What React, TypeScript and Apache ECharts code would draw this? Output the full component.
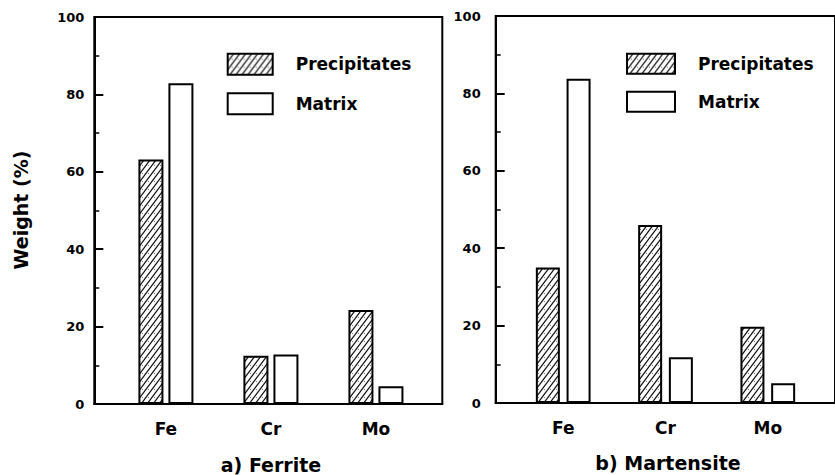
import React, { useEffect, useRef } from "react";
import * as echarts from "echarts";

// ---- data ----
const categories = ["Fe", "Cr", "Mo"];
const categoryPositions = [1, 2, 3];
const seriesNames = ["Precipitates", "Matrix"];
const ferritePrecipitates = [63.2, 12.5, 24.3];
const ferriteMatrix = [82.9, 12.8, 4.6];
const martensitePrecipitates = [35.0, 46.0, 19.7];
const martensiteMatrix = [83.8, 11.8, 5.1];
const panelTitles = ["a) Ferrite", "b) Martensite"];
const yAxisTitle = "Weight (%)";

const FONT = "DejaVu Sans";

function makeHatch(): any {
  const c = document.createElement("canvas");
  c.width = 6;
  c.height = 8;
  const ctx = c.getContext("2d")!;
  ctx.fillStyle = "#ffffff";
  ctx.fillRect(0, 0, 6, 8);
  ctx.strokeStyle = "#111111";
  ctx.lineWidth = 1.25;
  ctx.beginPath();
  ctx.moveTo(-0.75, 9);
  ctx.lineTo(6.75, -1);
  ctx.moveTo(5.25, 9);
  ctx.lineTo(6.75, 7);
  ctx.moveTo(-0.75, 1);
  ctx.lineTo(0.75, -1);
  ctx.stroke();
  ctx.fillStyle = "#777777";
  ctx.fillRect(4, 5, 1, 1);
  return { image: c, repeat: "repeat" };
}

export default function App() {
  const ref = useRef<HTMLDivElement>(null);

  useEffect(() => {
    if (!ref.current) return;
    const chart = echarts.init(ref.current, undefined, { renderer: "svg" });
    const hatch = makeHatch();
    const black = "#000";

    const panels = [
      { left: 94.3, top: 17, width: 348, height: 387, min: 0.318, max: 3.632, barWidth: 25, barGap: "20%", yMargin: 10, prec: ferritePrecipitates, matrix: ferriteMatrix },
      { left: 495.7, top: 16, width: 345, height: 387, min: 0.34, max: 3.657, barWidth: 24, barGap: "28%", yMargin: 15, prec: martensitePrecipitates, matrix: martensiteMatrix },
    ];

    const option: any = {
      animation: false,
      grid: panels.map((p) => ({
        left: p.left,
        top: p.top,
        width: p.width,
        height: p.height,
        show: true,
        borderColor: black,
        borderWidth: 2,
        backgroundColor: "transparent",
        containLabel: false,
      })),
      xAxis: panels.map((p, i) => ({
        gridIndex: i,
        type: "value",
        min: p.min,
        max: p.max,
        axisLine: { show: true, onZero: false, lineStyle: { color: black, width: 2 } },
        axisTick: { show: false },
        minorTick: { show: false },
        splitLine: { show: false },
        axisLabel: {
          customValues: categoryPositions,
          formatter: (v: number) => categories[categoryPositions.indexOf(Math.round(v))] ?? "",
          fontFamily: FONT,
          fontWeight: "bold",
          fontSize: 17,
          color: black,
          margin: 16,
        },
      })),
      yAxis: panels.map((p, i) => ({
        gridIndex: i,
        type: "value",
        min: 0,
        max: 100,
        interval: 20,
        axisLine: { show: true, lineStyle: { color: black, width: 2 } },
        axisTick: { show: true, inside: true, length: 9, lineStyle: { color: black, width: 2 } },
        minorTick: { show: true, splitNumber: 2, length: 5, lineStyle: { color: black, width: 1.5 } },
        splitLine: { show: false },
        minorSplitLine: { show: false },
        axisLabel: {
          fontFamily: FONT,
          fontWeight: "bold",
          fontSize: 13,
          color: black,
          margin: p.yMargin,
        },
      })),
      legend: [
        { left: 226.7, top: 52.7, itemWidth: 45, itemHeight: 21, itemGap: 16.5 },
        { left: 626, top: 52.7, itemWidth: 48, itemHeight: 20, itemGap: 16 },
      ].map((l) => ({
        ...l,
        padding: 0,
        orient: "vertical",
        data: seriesNames,
        icon: "rect",
        selectedMode: false,
        textStyle: { fontFamily: FONT, fontWeight: "bold", fontSize: 17, color: black, padding: [0, 0, 0, 18] },
      })),
      series: panels.flatMap((p, i) => [
        {
          name: seriesNames[0],
          type: "bar",
          xAxisIndex: i,
          yAxisIndex: i,
          barWidth: p.barWidth,
          barGap: p.barGap,
          data: p.prec.map((v, k) => [categoryPositions[k], v]),
          itemStyle: { color: hatch, borderColor: black, borderWidth: 2 },
          silent: true,
        },
        {
          name: seriesNames[1],
          type: "bar",
          xAxisIndex: i,
          yAxisIndex: i,
          barWidth: p.barWidth,
          barGap: p.barGap,
          data: p.matrix.map((v, k) => [categoryPositions[k], v]),
          itemStyle: { color: "#ffffff", borderColor: black, borderWidth: 2 },
          silent: true,
        },
      ]),
      graphic: [
        {
          type: "text",
          x: 21,
          y: 210,
          rotation: Math.PI / 2,
          style: {
            text: yAxisTitle,
            fontFamily: FONT,
            fontWeight: "bold",
            fontSize: 19,
            fill: black,
            align: "center",
            verticalAlign: "middle",
          },
        },
        {
          type: "text",
          x: 271,
          y: 465,
          style: { text: panelTitles[0], fontFamily: FONT, fontWeight: "bold", fontSize: 19, fill: black, align: "center", verticalAlign: "middle" },
        },
        {
          type: "text",
          x: 668,
          y: 463,
          style: { text: panelTitles[1], fontFamily: FONT, fontWeight: "bold", fontSize: 19, fill: black, align: "center", verticalAlign: "middle" },
        },
      ],
    };

    chart.setOption(option);
    return () => chart.dispose();
  }, []);

  return (
    <div
      ref={ref}
      style={{ position: "fixed", left: 0, top: 0, width: 835, height: 475, background: "#fff" }}
    />
  );
}
